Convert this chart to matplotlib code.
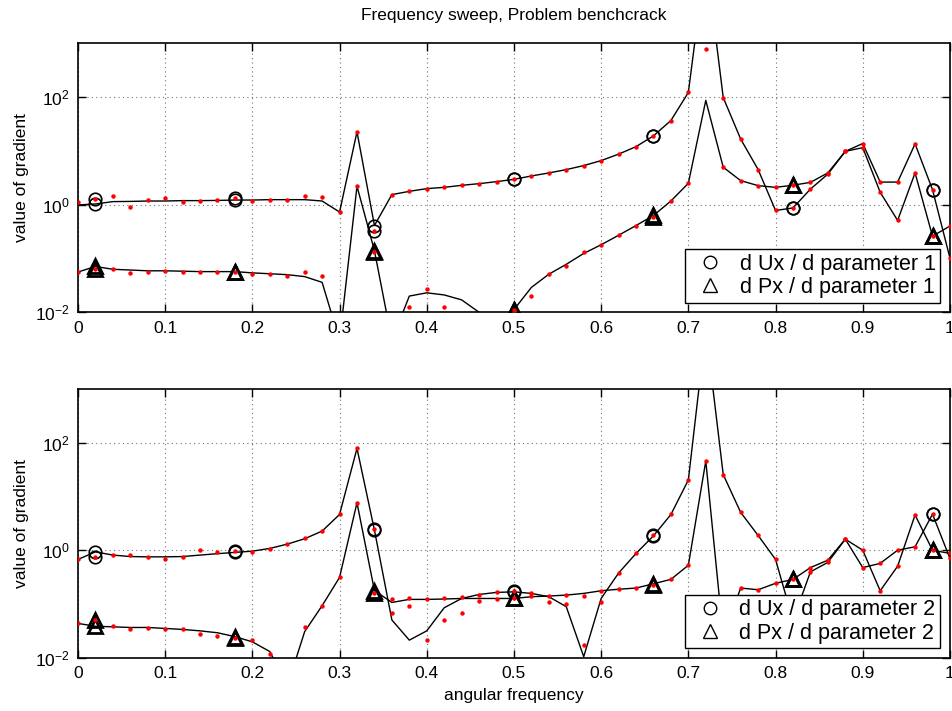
"""
plot.py
Frequency sweep, Problem benchcrack: gradient of Ux / Px w.r.t. two parameters.
"""

import matplotlib
matplotlib.use('Agg')
import matplotlib.pyplot as plt
import numpy as np
from matplotlib.ticker import FixedLocator, NullLocator

plt.rcParams['font.family'] = ['Liberation Sans', 'DejaVu Sans']
plt.rcParams['mathtext.fontset'] = 'custom'
plt.rcParams['mathtext.rm'] = 'Liberation Sans'
plt.rcParams['mathtext.it'] = 'Liberation Sans:italic'
plt.rcParams['font.size'] = 12

nan = np.nan

# angular frequency grid (0 .. 1, step 0.02)
freq = np.linspace(0.0, 1.0, 51)
# indices of the points that carry the o / ^ markers
marker_idx = [1, 9, 17, 25, 33, 41, 49]

# ---- parameter 1 -------------------------------------------------------
ux1_line = [0.99, 1.03, 1.14, 1.15, 1.17, 1.17, 1.19, 1.19, 1.20, 1.22,
            1.22, 1.24, 1.24, 1.24, 1.17, 0.73, 22.6, 0.41, 1.54, 1.77,
            1.99, 2.10, 2.29, 2.46, 2.68, 2.96, 3.42, 3.89, 4.49, 5.33,
            6.6, 8.7, 12.0, 19.0, 36.7, 122, 4.0e4, 98, 16.6, 4.5,
            0.78, 0.87, 1.95, 3.7, 9.8, 13.7, 2.63, 2.63, 13.5, 1.9,
            0.102]
ux1_dots = [1.14, 1.26, 1.45, 0.91, 1.24, 1.33, 1.14, 1.19, 1.24, 1.33,
            1.19, 1.24, 1.24, 1.45, 1.37, 0.73, 22.6, 0.32, 1.54, 1.77,
            1.99, 2.10, 2.29, 2.46, 2.68, 2.96, 3.42, 3.89, 4.49, 5.33,
            6.6, 8.7, 12.0, 19.0, 36.7, 122, 800, 98, 16.6, 4.5,
            0.78, 0.87, 1.95, 3.7, 9.8, 13.7, 2.63, 2.63, 13.5, 1.9,
            0.102]
px1_line = [0.056, 0.071, 0.063, 0.061, 0.059, 0.059, 0.058, 0.057, 0.057, 0.057,
            0.054, 0.052, 0.050, 0.046, 0.036, 0.003, 2.2, 0.14, 0.003, 0.020,
            0.023, 0.021, 0.017, 0.010, 0.005, 0.0112, 0.029, 0.051, 0.078, 0.124,
            0.18, 0.27, 0.41, 0.63, 1.17, 2.5, 87, 4.96, 2.8, 2.26,
            2.1, 2.3, 2.6, 3.9, 9.8, 11.5, 1.7, 0.51, 3.9, 0.26,
            0.40]
px1_dots = [0.056, 0.065, 0.063, 0.054, 0.057, 0.059, 0.056, 0.055, 0.055, 0.057,
            0.052, 0.052, 0.048, 0.056, 0.048, nan, 2.2, 0.133, nan, 0.0128,
            0.0276, 0.0123, nan, nan, nan, 0.011, 0.020, 0.052, 0.071, 0.13,
            0.18, 0.27, 0.41, 0.58, 1.17, 2.5, nan, 4.96, 2.8, 2.26,
            2.1, 2.3, 2.6, 3.9, 9.8, 11.5, 1.7, 0.51, 3.9, 0.26,
            0.40]

# ---- parameter 2 -------------------------------------------------------
ux2_line = [0.68, 0.94, 0.82, 0.77, 0.76, 0.76, 0.77, 0.82, 0.87, 0.92,
            0.97, 1.09, 1.31, 1.65, 2.29, 4.66, 79, 2.39, 0.051, 0.0215,
            0.032, 0.086, 0.128, 0.152, 0.166, 0.17, 0.159, 0.138, 0.090, 0.0106,
            0.128, 0.38, 0.88, 1.87, 4.66, 20.4, 1.3e4, 25.7, 5.1, 1.9,
            0.68, 0.050, 0.40, 0.60, 1.62, 0.48, 0.575, 1.01, 1.17, 4.73,
            0.71]
ux2_dots = [0.68, 0.74, 0.84, 0.82, 0.74, 0.69, 0.75, 1.01, 0.93, 0.97,
            0.94, 1.07, 1.31, 1.72, 2.29, 4.66, 79, 2.49, 0.069, 0.093,
            0.022, 0.051, 0.070, 0.148, 0.17, 0.18, 0.159, 0.144, 0.099, 0.0172,
            0.108, 0.38, 0.88, 1.93, 4.66, 20.4, nan, 25.7, 5.1, 1.9,
            0.68, 0.050, 0.40, 0.60, 1.62, 0.48, 0.575, 1.01, 1.17, 4.73,
            0.71]
px2_line = [0.044, 0.039, 0.038, 0.037, 0.037, 0.0355, 0.034, 0.032, 0.0295, 0.025,
            0.020, 0.0132, 0.003, 0.031, 0.094, 0.315, 7.7, 0.18, 0.108, 0.123,
            0.123, 0.125, 0.128, 0.128, 0.128, 0.128, 0.138, 0.142, 0.148, 0.159,
            0.178, 0.19, 0.20, 0.24, 0.29, 0.53, 46, 0.025, 0.20, 0.186,
            0.245, 0.29, 0.48, 0.66, 1.62, 1.01, 0.178, 0.51, 4.57, 1.01,
            0.88]
px2_dots = [0.044, 0.051, 0.040, 0.035, 0.036, 0.034, 0.035, 0.0275, 0.026, 0.0234,
            0.0215, 0.0118, nan, 0.038, 0.094, 0.315, 7.7, 0.159, 0.123, 0.128,
            0.123, 0.128, 0.134, 0.116, 0.123, 0.128, 0.142, 0.108, 0.148, 0.14,
            0.173, 0.19, 0.20, 0.23, 0.29, 0.53, 46, 0.025, 0.20, 0.186,
            0.245, 0.29, 0.48, 0.66, 1.62, 1.01, 0.178, 0.51, 4.57, 1.01,
            0.88]

PANELS = [
    (ux1_line, ux1_dots, px1_line, px1_dots, 'parameter 1'),
    (ux2_line, ux2_dots, px2_line, px2_dots, 'parameter 2'),
]

x_ticks = [0, 0.1, 0.2, 0.3, 0.4, 0.5, 0.6, 0.7, 0.8, 0.9, 1.0]
x_tick_labels = ['0', '0.1', '0.2', '0.3', '0.4', '0.5', '0.6', '0.7', '0.8', '0.9', '1']
y_ticks = [1e-2, 1e0, 1e2]
y_tick_labels = [r'$10^{-2}$', r'$10^{0}$', r'$10^{2}$']

fig = plt.figure(figsize=(9.53, 7.11), dpi=100)
ax_top = fig.add_axes([0.0818, 0.5608, 0.915, 0.3783])
ax_bot = fig.add_axes([0.0818, 0.0745, 0.915, 0.3783])

for ax, (u_line, u_dots, p_line, p_dots, pname) in zip([ax_top, ax_bot], PANELS):
    u_line = np.array(u_line)
    u_dots = np.array(u_dots)
    p_line = np.array(p_line)
    p_dots = np.array(p_dots)
    mx = freq[marker_idx]

    # markers (on both the line value and the dot value)
    ax.plot(mx, u_line[marker_idx], 'o', ms=9, mfc='none', mec='k', mew=1.2,
            label=f'd Ux / d {pname}', zorder=4)
    ax.plot(mx, u_dots[marker_idx], 'o', ms=9, mfc='none', mec='k', mew=1.2, zorder=4)
    ax.plot(mx, p_line[marker_idx], '^', ms=10, mfc='none', mec='k', mew=2.0,
            label=f'd Px / d {pname}', zorder=4)
    ax.plot(mx, p_dots[marker_idx], '^', ms=10, mfc='none', mec='k', mew=2.0, zorder=4)

    ax.plot(freq, u_line, '-', color='k', lw=1.0, zorder=3)
    ax.plot(freq, p_line, '-', color='k', lw=1.0, zorder=3)
    ax.plot(freq, u_dots, 'o', color='#ff0000', ms=3.2, mew=0, zorder=5)
    ax.plot(freq, p_dots, 'o', color='#ff0000', ms=3.2, mew=0, zorder=5)

    ax.set_yscale('log')
    ax.set_xlim(0, 1)
    ax.set_ylim(1e-2, 1e3)
    ax.xaxis.set_major_locator(FixedLocator(x_ticks))
    ax.set_xticklabels(x_tick_labels)
    ax.yaxis.set_major_locator(FixedLocator(y_ticks))
    ax.yaxis.set_minor_locator(NullLocator())
    ax.set_yticklabels(y_tick_labels)
    ax.tick_params(which='both', direction='in', top=True, right=True,
                   length=6, width=1.0, labelsize=12.5, pad=6)
    ax.grid(True, color='0.45', ls=(0, (1, 3)), lw=0.8)
    for s in ax.spines.values():
        s.set_linewidth(1.2)
    ax.set_ylabel('value of gradient', fontsize=12.5, labelpad=4)

    leg = ax.legend(loc='lower right', numpoints=1, fancybox=False,
                    edgecolor='k', framealpha=1, fontsize=15.5,
                    borderaxespad=0.45, handlelength=1.9,
                    handletextpad=0.4, borderpad=0.22,
                    labelspacing=0.1)
    leg.set_zorder(10)
    leg.get_frame().set_linewidth(1.0)
    for h in leg.legend_handles:
        h.set_markeredgewidth(1.0)

ax_top.set_title('Frequency sweep, Problem benchcrack', fontsize=12.5, pad=17)
ax_bot.set_xlabel('angular frequency', fontsize=12.5, labelpad=5)

fig.savefig('out.png', dpi=100)
